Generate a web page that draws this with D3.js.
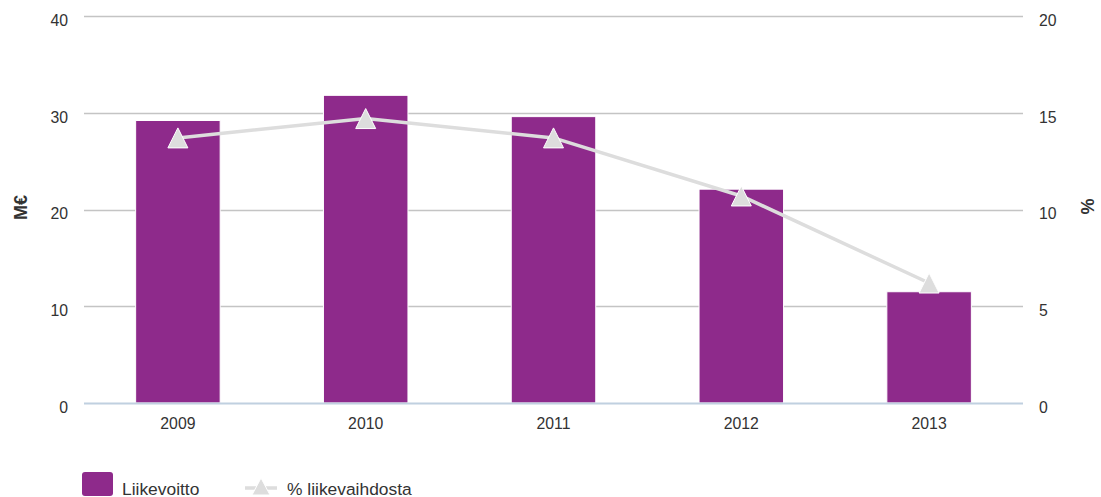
<!DOCTYPE html>
<html>
<head>
<meta charset="utf-8">
<script src="https://cdn.jsdelivr.net/npm/d3@7"></script>
<style>
  html, body { margin: 0; padding: 0; background: #fff; }
  svg { display: block; font-family: "Liberation Sans", Arial, sans-serif; }
</style>
</head>
<body>
<svg id="chart" width="1101" height="497"></svg>
<script>
// Operating profit (M€) and its share of revenue (%) by year
const years = ["2009", "2010", "2011", "2012", "2013"];
const profit = [29.2, 31.8, 29.6, 22.1, 11.5];
const marginPct = [13.7, 14.7, 13.7, 10.7, 6.2];
const leftTicks = [0, 10, 20, 30, 40];
const rightTicks = [0, 5, 10, 15, 20];
const seriesNames = ["Liikevoitto", "% liikevaihdosta"];
const axisTitles = ["M€", "%"];

const barColor = "#8e2a8b";
const lineColor = "#dddddd";
const textColor = "#333333";
const fontFamily = "Liberation Sans, Arial, sans-serif";

const plot = { left: 84, right: 1023, top: 16, bottom: 403 };

const svg = d3.select("#chart");

const x = d3.scaleBand().domain(years).range([plot.left, plot.right]).padding(0);
const yL = d3.scaleLinear().domain([0, 40]).range([plot.bottom, plot.top]);
const yR = d3.scaleLinear().domain([0, 20]).range([plot.bottom, plot.top]);
const cx = d => x(d) + x.bandwidth() / 2;
const barW = x.bandwidth() * 0.45;

// Horizontal grid lines
svg.append("g").selectAll("line").data(leftTicks.filter(t => t !== 0)).join("line")
  .attr("x1", plot.left).attr("x2", plot.right)
  .attr("y1", d => Math.round(yL(d)) + 0.5).attr("y2", d => Math.round(yL(d)) + 0.5)
  .attr("stroke", "#c4c4c4").attr("stroke-width", 1.3);

// Left axis labels
const leftAxis = d3.axisLeft(yL).tickValues(leftTicks).tickSize(0).tickPadding(16);
const gL = svg.append("g").attr("transform", `translate(${plot.left},0)`).call(leftAxis);
gL.select(".domain").remove();
gL.selectAll("text").attr("font-size", 15.8).attr("fill", textColor)
  .attr("font-family", fontFamily).attr("dy", "0.6em");

// Right axis labels
const rightAxis = d3.axisRight(yR).tickValues(rightTicks).tickSize(0).tickPadding(16);
const gR = svg.append("g").attr("transform", `translate(${plot.right},0)`).call(rightAxis);
gR.select(".domain").remove();
gR.selectAll("text").attr("font-size", 15.8).attr("fill", textColor)
  .attr("font-family", fontFamily).attr("dy", "0.6em");

// Bars
svg.append("g").selectAll("rect").data(years).join("rect")
  .attr("x", d => cx(d) - barW / 2)
  .attr("y", (d, i) => yL(profit[i]))
  .attr("width", barW)
  .attr("height", (d, i) => yL(0) - yL(profit[i]))
  .attr("fill", barColor)
  .attr("stroke", "#ffffff").attr("stroke-width", 1);

// Baseline (x axis line)
svg.append("line")
  .attr("x1", plot.left).attr("x2", plot.right)
  .attr("y1", plot.bottom + 0.5).attr("y2", plot.bottom + 0.5)
  .attr("stroke", "#c0d0e0").attr("stroke-width", 2);

// Category labels
const bottomAxis = d3.axisBottom(x).tickSize(0).tickPadding(15);
const gB = svg.append("g").attr("transform", `translate(0,${plot.bottom})`).call(bottomAxis);
gB.select(".domain").remove();
gB.selectAll("text").attr("font-size", 15.8).attr("fill", textColor)
  .attr("font-family", fontFamily);

// Percentage line
const line = d3.line().x((d, i) => cx(years[i])).y(d => yR(d));
svg.append("path").datum(marginPct)
  .attr("d", line).attr("fill", "none")
  .attr("stroke", lineColor).attr("stroke-width", 3.5)
  .attr("stroke-linejoin", "round").attr("stroke-linecap", "round");

// Triangle markers
const r = 10;
const tri = (px, py) => `M${px},${py - r}L${px + r},${py + r}L${px - r},${py + r}Z`;
svg.append("g").selectAll("path").data(marginPct).join("path")
  .attr("d", (d, i) => tri(cx(years[i]), yR(d)))
  .attr("fill", lineColor).attr("stroke", "#ffffff").attr("stroke-width", 1);

// Axis titles
svg.append("text")
  .attr("transform", "translate(26.5,207.5) rotate(-90)")
  .attr("text-anchor", "middle").attr("font-size", 18).attr("font-weight", "bold")
  .attr("font-family", fontFamily).attr("fill", textColor).text(axisTitles[0]);
svg.append("text")
  .attr("transform", "translate(1081,206.5) rotate(90)")
  .attr("text-anchor", "middle").attr("font-size", 18).attr("font-weight", "bold")
  .attr("font-family", fontFamily).attr("fill", textColor).text(axisTitles[1]);

// Legend
const lg = svg.append("g").attr("font-family", fontFamily);
lg.append("rect").attr("x", 82).attr("y", 472).attr("width", 31).attr("height", 24)
  .attr("rx", 3).attr("fill", barColor);
lg.append("text").attr("x", 122).attr("y", 494.5).attr("font-size", 17.4)
  .attr("fill", textColor).text(seriesNames[0]);
lg.append("line").attr("x1", 245).attr("x2", 277).attr("y1", 488).attr("y2", 488)
  .attr("stroke", lineColor).attr("stroke-width", 3.5);
lg.append("path").attr("d", `M261,478L270,495L252,495Z`)
  .attr("fill", lineColor).attr("stroke", "#ffffff").attr("stroke-width", 1);
lg.append("text").attr("x", 287).attr("y", 494.5).attr("font-size", 17.4)
  .attr("fill", textColor).text(seriesNames[1]);
</script>
</body>
</html>
